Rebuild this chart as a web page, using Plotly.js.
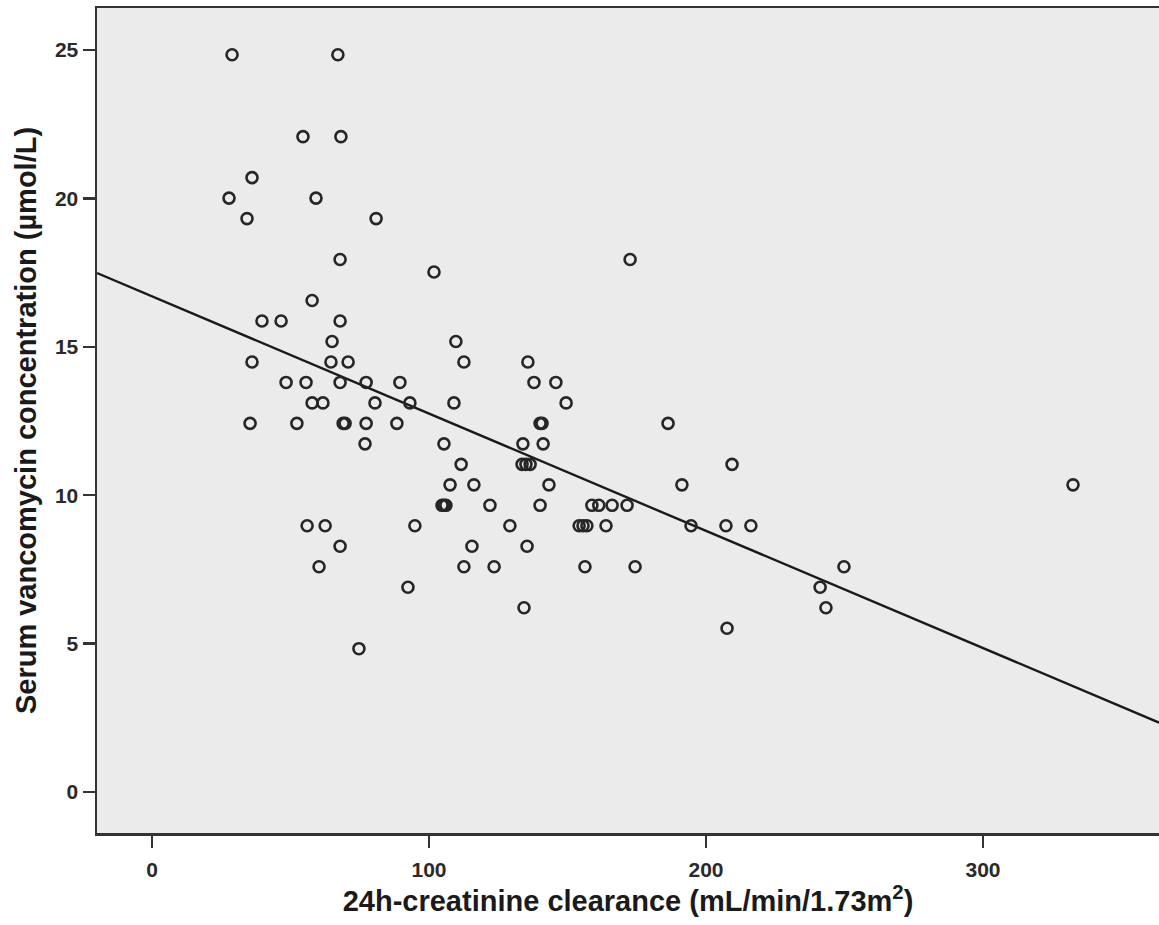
<!DOCTYPE html>
<html>
<head>
<meta charset="utf-8">
<script src="https://cdn.plot.ly/plotly-3.0.1.min.js"></script>
<style>
  html, body { margin: 0; padding: 0; background: #ffffff; }
  #chart { width: 1159px; height: 925px; }
</style>
</head>
<body>
<div id="chart"></div>
<script>
// 24h-creatinine clearance (mL/min/1.73m2)
const clearance = [
  28.9, 67.1,
  54.5, 68.2,
  36.1,
  27.8, 59.2,
  34.3, 80.9,
  67.9, 172.6,
  101.8,
  57.8,
  39.7, 46.6, 67.9,
  65.0, 109.7,
  36.1, 64.6, 70.8, 112.6, 135.7,
  48.4, 55.6, 67.9, 77.3, 89.5, 137.9, 145.8,
  57.8, 61.7, 80.5, 93.1, 109.0, 149.5,
  35.4, 52.3, 69.0, 69.7, 77.3, 88.4, 140.1, 140.8, 186.3,
  76.9, 105.4, 133.9, 141.2,
  111.6, 133.6, 135.0, 136.5, 209.4,
  107.6, 116.2, 143.3, 191.3, 332.5,
  104.7, 105.4, 106.1, 122.0, 140.1, 158.8, 161.3, 166.1, 171.5,
  56.0, 62.5, 94.9, 129.2, 154.2, 155.6, 157.0, 163.9, 194.6, 207.2, 216.2,
  67.9, 115.5, 135.4,
  60.3, 112.6, 123.5, 156.3, 174.4, 249.8,
  92.4, 241.2,
  134.3, 243.3,
  207.6,
  74.7
];

// Serum vancomycin concentration (µmol/L), same order
const vancomycin = [
  24.84, 24.84,
  22.08, 22.08,
  20.70,
  20.01, 20.01,
  19.32, 19.32,
  17.94, 17.94,
  17.52,
  16.56,
  15.87, 15.87, 15.87,
  15.18, 15.18,
  14.49, 14.49, 14.49, 14.49, 14.49,
  13.80, 13.80, 13.80, 13.80, 13.80, 13.80, 13.80,
  13.11, 13.11, 13.11, 13.11, 13.11, 13.11,
  12.42, 12.42, 12.42, 12.42, 12.42, 12.42, 12.42, 12.42, 12.42,
  11.73, 11.73, 11.73, 11.73,
  11.04, 11.04, 11.04, 11.04, 11.04,
  10.35, 10.35, 10.35, 10.35, 10.35,
  9.66, 9.66, 9.66, 9.66, 9.66, 9.66, 9.66, 9.66, 9.66,
  8.97, 8.97, 8.97, 8.97, 8.97, 8.97, 8.97, 8.97, 8.97, 8.97, 8.97,
  8.28, 8.28, 8.28,
  7.59, 7.59, 7.59, 7.59, 7.59, 7.59,
  6.90, 6.90,
  6.21, 6.21,
  5.52,
  4.83
];

// Fit line
const fitIntercept = 16.70;
const fitSlope = -0.0395;

const xRange = [-19.86, 363.54];
const yRange = [-1.38, 26.415];
const xTicks = [0, 100, 200, 300];
const yTicks = [0, 5, 10, 15, 20, 25];

const fitX = xRange.slice();
const fitY = fitX.map(v => fitIntercept + fitSlope * v);

const FONT = 'Liberation Sans, Arial, sans-serif';

const traces = [
  {
    type: 'scatter',
    mode: 'lines',
    x: fitX,
    y: fitY,
    line: { color: '#1a1a1a', width: 2.4 },
    hoverinfo: 'skip',
    showlegend: false
  },
  {
    type: 'scatter',
    mode: 'markers',
    x: clearance,
    y: vancomycin,
    marker: {
      symbol: 'circle-open',
      size: 11,
      color: '#262626',
      line: { width: 2.6, color: '#262626' }
    },
    showlegend: false
  }
];

const layout = {
  width: 1159,
  height: 925,
  margin: { l: 97, r: 0, t: 8, b: 92 },
  paper_bgcolor: '#ffffff',
  plot_bgcolor: '#ebebeb',
  showlegend: false,
  font: { family: FONT, color: '#222222' },
  xaxis: {
    range: xRange,
    tickvals: xTicks,
    ticktext: xTicks.map(String),
    ticks: 'outside',
    ticklen: 12,
    tickwidth: 2.5,
    tickcolor: '#333333',
    ticklabelstandoff: 4,
    showgrid: false,
    zeroline: false,
    showline: true,
    linecolor: '#333333',
    linewidth: 2.5,
    mirror: true,
    automargin: false,
    tickfont: { family: FONT, size: 21, weight: 'bold', color: '#2a2a2a' },
    title: {
      text: '24h-creatinine clearance (mL/min/1.73m<sup>2</sup>)',
      font: { family: FONT, size: 29, weight: 'bold', color: '#1a1a1a' },
      standoff: 10
    }
  },
  yaxis: {
    range: yRange,
    tickvals: yTicks,
    ticktext: yTicks.map(String),
    ticks: 'outside',
    ticklen: 12,
    tickwidth: 2.5,
    tickcolor: '#333333',
    showgrid: false,
    zeroline: false,
    showline: true,
    linecolor: '#333333',
    linewidth: 2.5,
    automargin: false,
    tickfont: { family: FONT, size: 21, weight: 'bold', color: '#2a2a2a' },
    title: {
      text: 'Serum vancomycin concentration (µmol/L)',
      font: { family: FONT, size: 29, weight: 'bold', color: '#1a1a1a' },
      standoff: 10
    }
  }
};

Plotly.newPlot('chart', traces, layout, { displayModeBar: false, staticPlot: true });
</script>
</body>
</html>
